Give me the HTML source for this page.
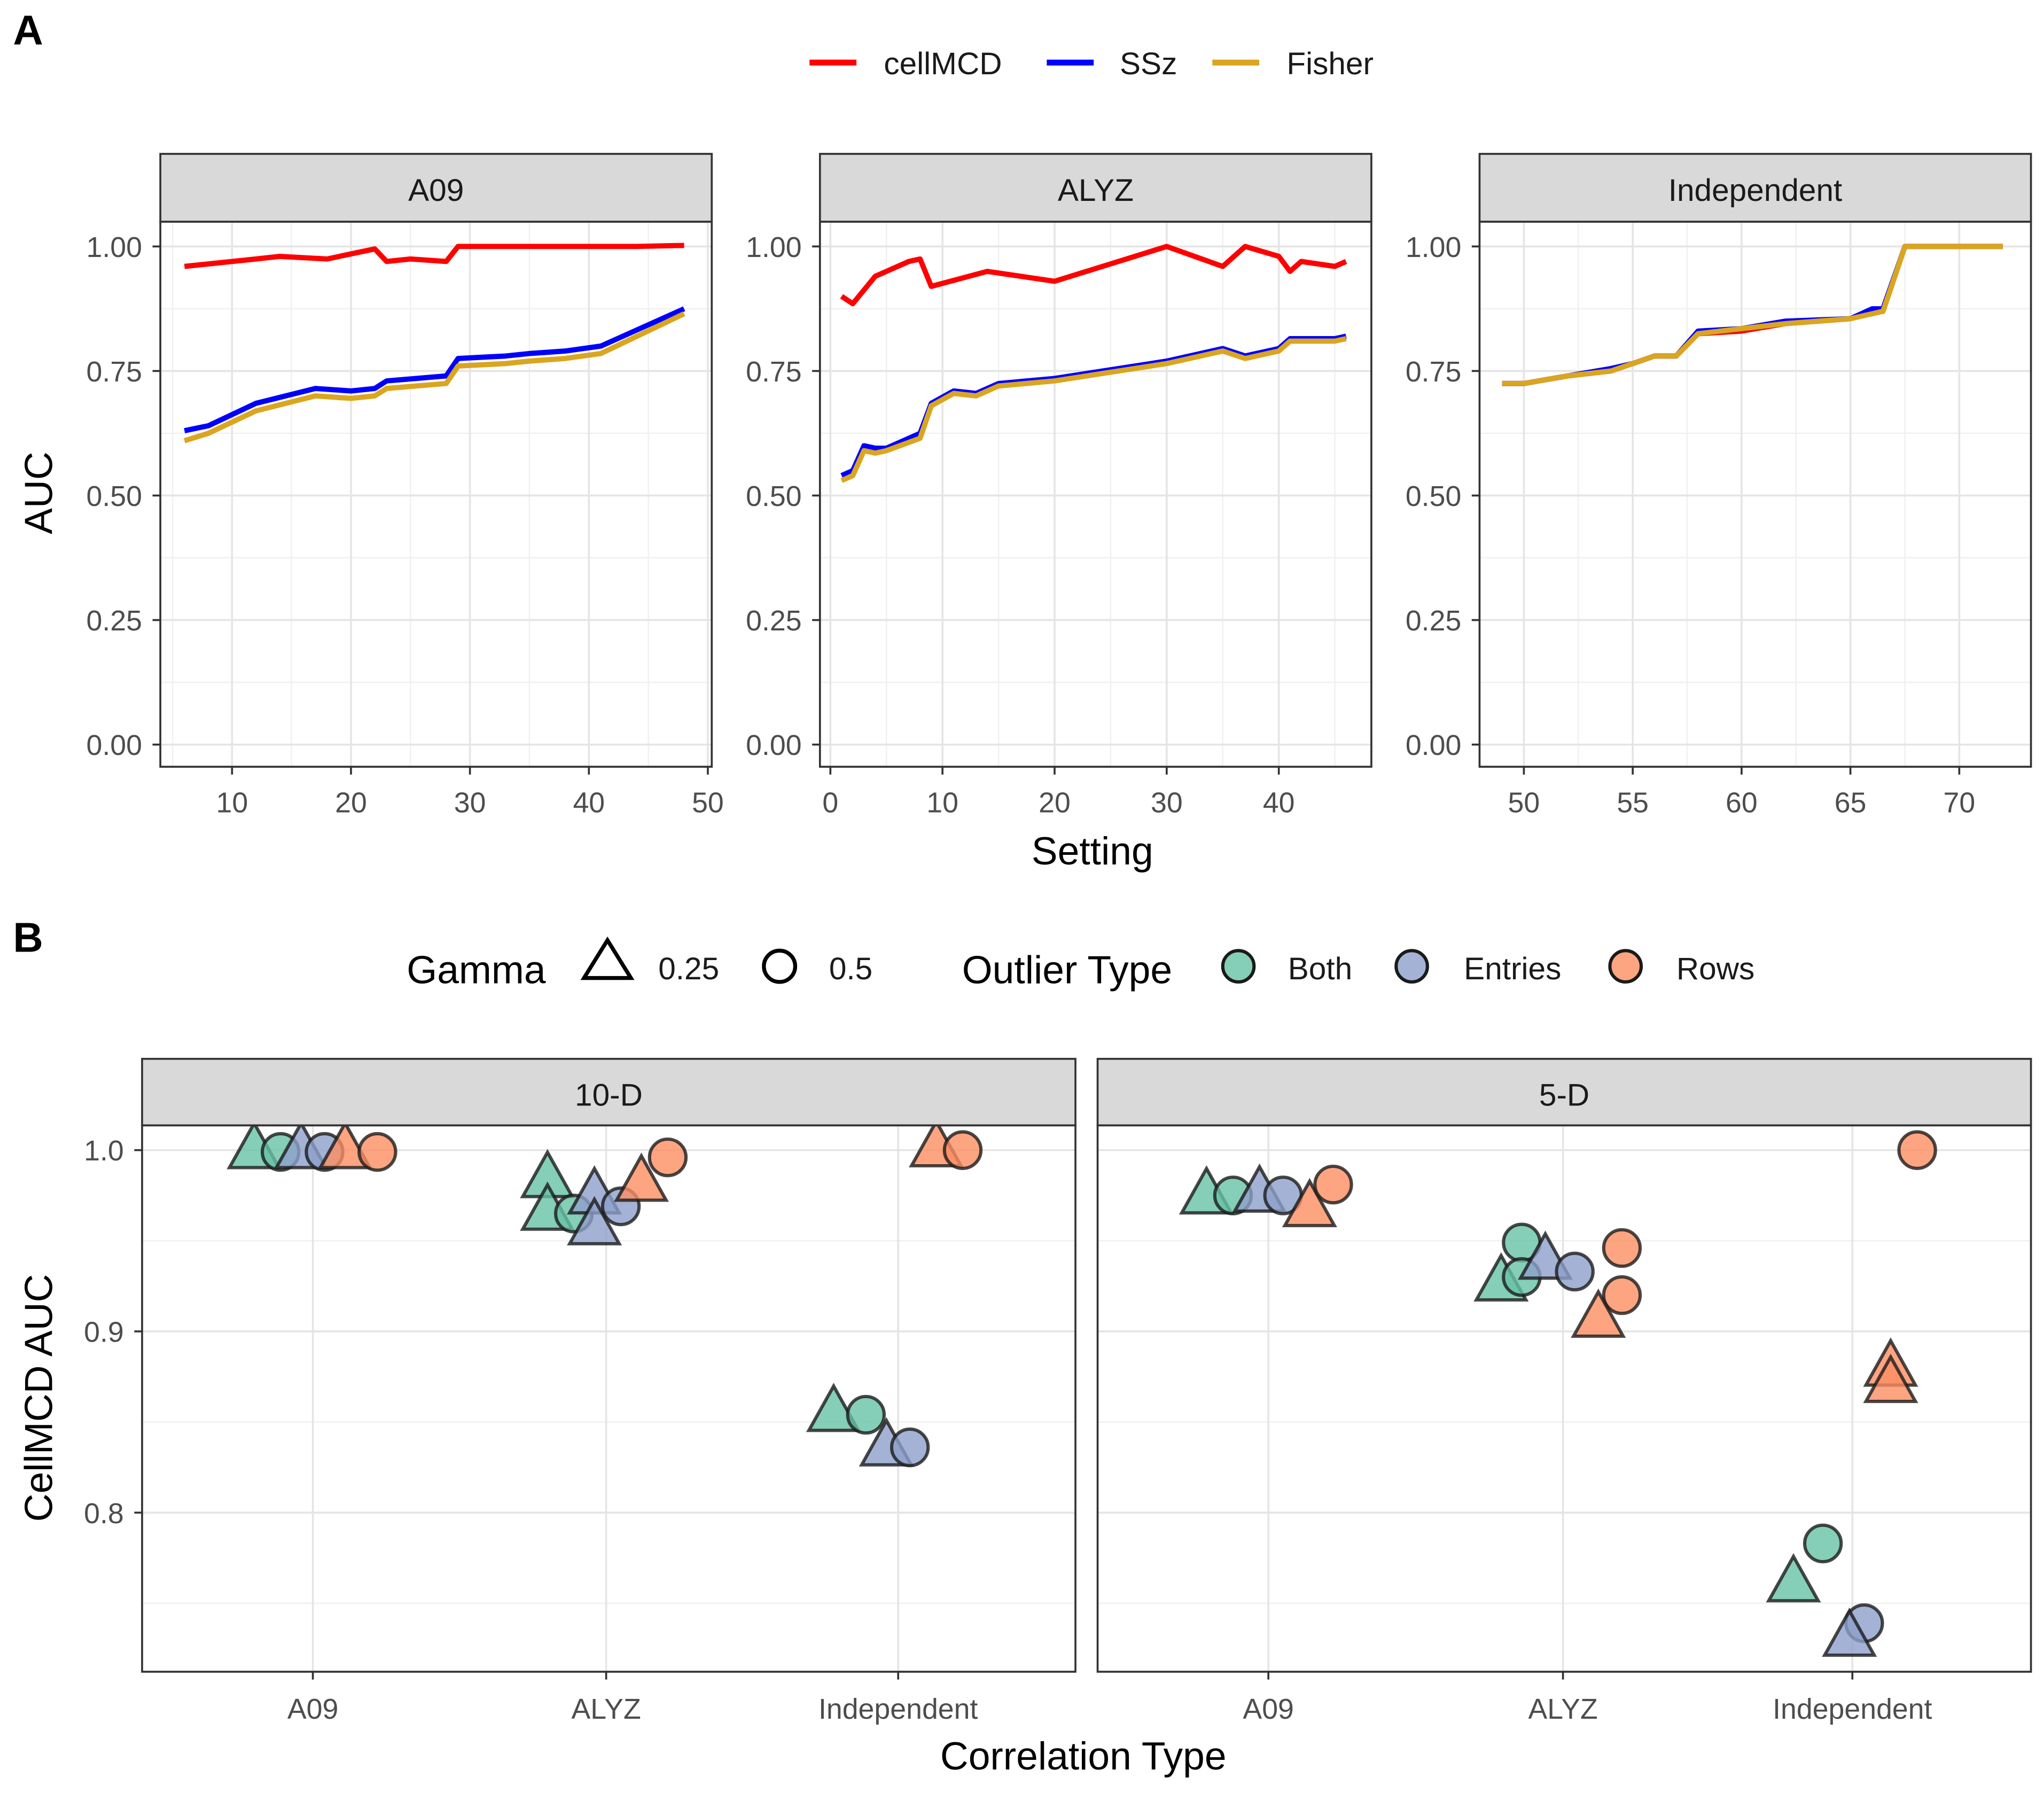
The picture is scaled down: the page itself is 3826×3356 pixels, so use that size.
<!DOCTYPE html>
<html><head><meta charset="utf-8"><style>
html,body{margin:0;padding:0;background:#fff}
svg{display:block}
text{font-family:"Liberation Sans",Arial,sans-serif;fill:#000}
.tick{font-size:22px;fill:#4d4d4d}
.strip{font-size:24px;fill:#1a1a1a}
.ttl{font-size:30px}
.leg{font-size:24px;fill:#1a1a1a}
</style></head><body>
<svg id="chart" width="3826" height="3356" viewBox="0 0 1568 1375" preserveAspectRatio="none" xmlns="http://www.w3.org/2000/svg">
<rect width="1568" height="1375" fill="#fff"/>
<text x="10" y="34" font-size="32" font-weight="bold">A</text>
<text x="10" y="730" font-size="32" font-weight="bold">B</text>
<g id="gA"></g>
<g id="gB"></g>
</svg>
<script>
// ---------- Panel A data ----------
const a09X = [6,8,12,14,18,20,22,23,25,28,29,33,38,44,48];
const a09Cell = [0.96,0.965,0.975,0.98,0.975,0.985,0.995,0.97,0.975,0.97,1.0,1.0,1.0,1.0,1.002];
const a09SSzX = [6,8,12,17,20,22,23,28,29,33,35,38,41,48];
const a09SSz = [0.63,0.64,0.685,0.715,0.71,0.715,0.73,0.74,0.775,0.78,0.785,0.79,0.80,0.875];
const a09Fisher = [0.61,0.625,0.67,0.70,0.695,0.70,0.715,0.725,0.76,0.765,0.77,0.775,0.785,0.865];
const alyzX = [1,2,4,7,8,9,14,20,30,35,37,40,41,42,45,46];
const alyzCell = [0.90,0.885,0.94,0.97,0.975,0.92,0.95,0.93,1.0,0.96,1.0,0.98,0.95,0.97,0.96,0.97];
const alyzSSzX = [1,2,3,4,5,8,9,11,13,15,20,30,35,37,40,41,45,46];
const alyzSSz = [0.54,0.55,0.60,0.595,0.595,0.625,0.685,0.71,0.705,0.725,0.735,0.77,0.795,0.78,0.795,0.815,0.815,0.82];
const alyzFisher = [0.53,0.54,0.59,0.585,0.59,0.615,0.68,0.705,0.70,0.72,0.73,0.765,0.79,0.775,0.79,0.81,0.81,0.815];
const indX = [49,50,52,54,55,56,57,58,60,62,65,66,66.5,67.5,72];
const indCell = [0.725,0.725,0.74,0.75,0.765,0.78,0.78,0.825,0.83,0.845,0.855,0.87,0.87,1.0,1.0];
const indSSz = [0.725,0.725,0.74,0.755,0.765,0.78,0.78,0.83,0.835,0.85,0.855,0.875,0.875,1.0,1.0];
const indFisher = [0.725,0.725,0.74,0.75,0.765,0.78,0.78,0.825,0.835,0.845,0.855,0.865,0.87,1.0,1.0];
const aYTicks = [0,0.25,0.5,0.75,1.0];
const aYLabels = ["0.00","0.25","0.50","0.75","1.00"];
// ---------- Panel B data ----------
const bCats = ["A09","ALYZ","Independent"];
const bFacets = ["10-D","5-D"];
const bYTicks = [0.8,0.9,1.0];
const bYLabels = ["0.8","0.9","1.0"];
// facet, category index, jitter (category units), value, shape(0 tri,1 circle), type(0 both,1 entries,2 rows)
const ptFacet = [0,0,0,0,0,0, 0,0,0,0,0,0,0,0, 0,0,0,0,0,0, 1,1,1,1,1,1, 1,1,1,1,1,1,1,1, 1,1,1,1,1,1,1];
const ptCat   = [0,0,0,0,0,0, 1,1,1,1,1,1,1,1, 2,2,2,2,2,2, 0,0,0,0,0,0, 1,1,1,1,1,1,1,1, 2,2,2,2,2,2,2];
const ptJit   = [-0.2,-0.11,-0.04,0.04,0.11,0.22, -0.2,-0.2,-0.11,-0.04,-0.04,0.05,0.12,0.21, -0.22,-0.11,-0.04,0.04,0.13,0.22, -0.21,-0.12,-0.03,0.05,0.14,0.22, -0.14,-0.21,-0.14,-0.06,0.04,0.2,0.2,0.12, 0.22,0.13,0.13,-0.1,-0.2,0.04,-0.01];
const ptVal   = [0.999,0.999,0.999,0.999,0.999,0.999, 0.983,0.965,0.965,0.974,0.957,0.969,0.981,0.996, 0.854,0.854,0.835,0.836,1.0,1.0, 0.974,0.975,0.975,0.975,0.967,0.981, 0.949,0.926,0.930,0.938,0.933,0.946,0.920,0.906, 1.0,0.879,0.870,0.783,0.760,0.739,0.730];
const ptShape = [0,1,0,1,0,1, 0,0,1,0,0,1,0,1, 0,1,0,1,0,1, 0,1,0,1,0,1, 1,0,1,0,1,1,1,0, 1,0,0,1,0,1,0];
const ptType  = [0,0,1,1,2,2, 0,0,0,1,1,1,2,2, 0,0,1,1,2,2, 0,0,1,1,2,2, 0,0,0,1,1,2,2,2, 2,2,2,0,0,1,1];
const typeColors = ["#66c2a5","#8da0cb","#fc8d62"];

const NS="http://www.w3.org/2000/svg";
function mk(parent,tag,attrs,txt){const e=document.createElementNS(NS,tag);for(const k in attrs)e.setAttribute(k,attrs[k]);if(txt!==undefined)e.textContent=txt;parent.appendChild(e);return e;}

// ---------- Panel A ----------
const gA=document.getElementById('gA');
const aPanels=[
 {name:"A09",x0:123,x1:546,d0:10,p0:178,d1:50,p1:543,ticks:[10,20,30,40,50],minor:[5,15,25,35,45],series:[[a09SSzX,a09SSz,"#0000ff"],[a09SSzX,a09Fisher,"#daa520"],[a09X,a09Cell,"#ff0000"]]},
 {name:"ALYZ",x0:629,x1:1052,d0:0,p0:637,d1:40,p1:981,ticks:[0,10,20,30,40],minor:[5,15,25,35,45],series:[[alyzSSzX,alyzSSz,"#0000ff"],[alyzSSzX,alyzFisher,"#daa520"],[alyzX,alyzCell,"#ff0000"]]},
 {name:"Independent",x0:1135,x1:1558,d0:50,p0:1169,d1:70,p1:1503,ticks:[50,55,60,65,70],minor:[52.5,57.5,62.5,67.5],series:[[indX,indCell,"#ff0000"],[indX,indSSz,"#0000ff"],[indX,indFisher,"#daa520"]]}
];
const ayT=170, ayB=588;
function ay(v){return 571-v*382;}
aPanels.forEach((p,pi)=>{
  const g=mk(gA,'g',{});
  
  
  const ax=v=>p.p0+(v-p.d0)*(p.p1-p.p0)/(p.d1-p.d0);
  mk(g,'rect',{x:p.x0,y:ayT,width:p.x1-p.x0,height:ayB-ayT,fill:'#fff'});
  [0.125,0.375,0.625,0.875].forEach(v=>mk(g,'line',{x1:p.x0,x2:p.x1,y1:ay(v),y2:ay(v),stroke:'#f0f0f0','stroke-width':1}));
  p.minor.forEach(v=>{const x=ax(v);if(x>p.x0&&x<p.x1)mk(g,'line',{x1:x,x2:x,y1:ayT,y2:ayB,stroke:'#f0f0f0','stroke-width':1});});
  aYTicks.forEach((v,i)=>{mk(g,'line',{x1:p.x0,x2:p.x1,y1:ay(v),y2:ay(v),stroke:'#e5e5e5','stroke-width':1.5});
    mk(g,'line',{x1:p.x0-6,x2:p.x0,y1:ay(v),y2:ay(v),stroke:'#333','stroke-width':1.5});
    const t=mk(g,'text',{x:p.x0-14,y:ay(v)+8,'text-anchor':'end',class:'tick'},aYLabels[i]);
    });
  p.ticks.forEach(v=>{const x=ax(v);mk(g,'line',{x1:x,x2:x,y1:ayT,y2:ayB,stroke:'#e5e5e5','stroke-width':1.5});
    mk(g,'line',{x1:x,x2:x,y1:ayB,y2:ayB+6,stroke:'#333','stroke-width':1.5});
    const t=mk(g,'text',{x:x,y:ayB+35,'text-anchor':'middle',class:'tick'},String(v));
    });
  p.series.forEach(s=>{const pts=s[0].map((x,i)=>ax(x).toFixed(1)+','+ay(s[1][i]).toFixed(1)).join(' ');
    const l=mk(g,'polyline',{points:pts,fill:'none',stroke:s[2],'stroke-width':4,'stroke-linejoin':'round'});
    
    });
  mk(g,'rect',{x:p.x0,y:ayT,width:p.x1-p.x0,height:ayB-ayT,fill:'none',stroke:'#333','stroke-width':1.5});
  const st=mk(g,'rect',{x:p.x0,y:118,width:p.x1-p.x0,height:52,fill:'#d9d9d9',stroke:'#333','stroke-width':1.5});
  
  mk(g,'text',{x:(p.x0+p.x1)/2,y:154,'text-anchor':'middle',class:'strip'},p.name);
});
let t;
t=mk(gA,'text',{x:0,y:0,transform:'translate(40,378) rotate(-90)','text-anchor':'middle',class:'ttl'},'AUC');

t=mk(gA,'text',{x:838,y:663,'text-anchor':'middle',class:'ttl'},'Setting');

[["cellMCD","#ff0000",621,678],["SSz","#0000ff",803,859],["Fisher","#daa520",930,987]].forEach(l=>{
  const g=mk(gA,'g',{});
  mk(g,'line',{x1:l[2],x2:l[2]+36,y1:48,y2:48,stroke:l[1],'stroke-width':4.5});
  mk(g,'text',{x:l[3],y:57,class:'leg'},l[0]);
});

// ---------- Panel B ----------
const gB=document.getElementById('gB');
const byT=863, byB=1282;
function by(v){return 882+(1.0-v)*1390;}
const bPan=[{x0:109,x1:825,c:[240,465,689]},{x0:842,x1:1558,c:[973,1199,1421]}];
bPan.forEach((p,pi)=>{
  const g=mk(gB,'g',{});
  mk(g,'rect',{x:p.x0,y:byT,width:p.x1-p.x0,height:byB-byT,fill:'#fff'});
  [0.75,0.85,0.95].forEach(v=>mk(g,'line',{x1:p.x0,x2:p.x1,y1:by(v),y2:by(v),stroke:'#f0f0f0','stroke-width':1}));
  bYTicks.forEach((v,i)=>{mk(g,'line',{x1:p.x0,x2:p.x1,y1:by(v),y2:by(v),stroke:'#e5e5e5','stroke-width':1.5});
    if(pi==0){mk(g,'line',{x1:p.x0-6,x2:p.x0,y1:by(v),y2:by(v),stroke:'#333','stroke-width':1.5});
    const tt=mk(g,'text',{x:p.x0-14,y:by(v)+8,'text-anchor':'end',class:'tick'},bYLabels[i]);
    }});
  p.c.forEach((x,i)=>{mk(g,'line',{x1:x,x2:x,y1:byT,y2:byB,stroke:'#e5e5e5','stroke-width':1.5});
    mk(g,'line',{x1:x,x2:x,y1:byB,y2:byB+6,stroke:'#333','stroke-width':1.5});
    const tt=mk(g,'text',{x:x,y:byB+36,'text-anchor':'middle',class:'tick'},bCats[i]);
    });
  const pg=mk(g,'g',{});
  ptVal.forEach((v,i)=>{ if(ptFacet[i]!==pi)return;
    const x=p.c[ptCat[i]]+ptJit[i]*(p.c[1]-p.c[0]); const y=by(v); let e;
    if(ptShape[i]===1) e=mk(pg,'circle',{cx:x,cy:y,r:14});
    else e=mk(pg,'polygon',{points:`${x},${y-22} ${x-19},${y+12} ${x+19},${y+12}`});
    e.setAttribute('fill',typeColors[ptType[i]]);e.setAttribute('fill-opacity',0.8);
    e.setAttribute('stroke','#1a1a1a');e.setAttribute('stroke-width',2.5);e.setAttribute('stroke-opacity',0.8);
    
    
  });
  mk(g,'rect',{x:p.x0,y:byT,width:p.x1-p.x0,height:byB-byT,fill:'none',stroke:'#333','stroke-width':1.5});
  const st=mk(g,'rect',{x:p.x0,y:812,width:p.x1-p.x0,height:51,fill:'#d9d9d9',stroke:'#333','stroke-width':1.5});
  
  mk(g,'text',{x:(p.x0+p.x1)/2,y:848,'text-anchor':'middle',class:'strip'},bFacets[pi]);
});
t=mk(gB,'text',{x:0,y:0,transform:'translate(40,1072) rotate(-90)','text-anchor':'middle',class:'ttl'},'CellMCD AUC');

t=mk(gB,'text',{x:831,y:1357,'text-anchor':'middle',class:'ttl'},'Correlation Type');

// legend B
const lg=mk(gB,'g',{});
mk(lg,'text',{x:312,y:754,class:'ttl'},'Gamma');
mk(lg,'polygon',{points:'466,721 448,750 484,750',fill:'none',stroke:'#000','stroke-width':3});
mk(lg,'text',{x:505,y:751,class:'leg'},'0.25');
mk(lg,'circle',{cx:598,cy:741,r:12,fill:'none',stroke:'#000','stroke-width':3});
mk(lg,'text',{x:636,y:751,class:'leg'},'0.5');
mk(lg,'text',{x:738,y:754,class:'ttl'},'Outlier Type');
[["Both",950,988],["Entries",1083,1123],["Rows",1247,1286]].forEach((l,i)=>{
  const g=mk(lg,'g',{});
  mk(g,'circle',{cx:l[1],cy:741,r:12,fill:typeColors[i],'fill-opacity':0.8,stroke:'#1a1a1a','stroke-width':2.5});
  mk(g,'text',{x:l[2],y:751,class:'leg'},l[0]);
});
</script>
</body></html>
